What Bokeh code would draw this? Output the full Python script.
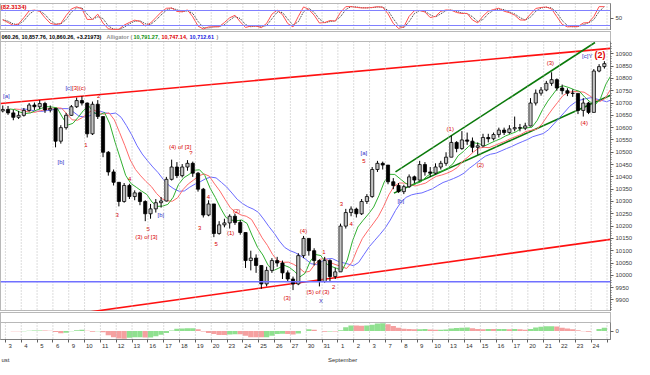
import numpy as np
import pandas as pd
from bokeh.plotting import figure
from bokeh.layouts import column
from bokeh.models import Range1d, FixedTicker, LinearAxis, ColumnDataSource, Span
from bokeh.core.properties import value
from bokeh.embed import file_html
from bokeh.resources import INLINE

# ---------------- data ----------------
day_labels = ["3", "4", "5", "6", "9", "10", "11", "12", "13", "16", "17", "18", "19", "20",
              "23", "24", "25", "26", "27", "30", "31", "1", "2", "3", "7", "8", "9", "10",
              "13", "14", "15", "16", "17", "20", "21", "22", "23", "24", "25"]
month_pos = [0.0, 21.3]
month_labels = ["ust", "September"]

first_open = 10668
close = [10674,
         10660, 10642, 10650, 10670, 10692, 10685, 10698, 10672, 10678, 10545, 10600, 10650,
         10685, 10710, 10700, 10575, 10695, 10645, 10500, 10420, 10378, 10300, 10365, 10320,
         10335, 10300, 10250, 10270, 10295, 10302, 10390, 10440, 10405, 10440, 10455, 10415,
         10350, 10245, 10290, 10170, 10205, 10213, 10240, 10215, 10174, 10060, 10070, 10040,
         9965, 10020, 10060, 10050, 10010, 9985, 9965, 10080, 10150, 10100, 10060, 9975,
         10060, 9995, 10014, 10200, 10255, 10269, 10250, 10300, 10320, 10430, 10455, 10448,
         10380, 10365, 10340, 10360, 10400, 10387, 10450, 10420, 10415, 10440, 10455, 10480,
         10540, 10515, 10550, 10545, 10520, 10526, 10560, 10555, 10572, 10590, 10580, 10595,
         10600, 10598, 10607, 10700, 10740, 10753, 10780, 10795, 10761, 10750, 10740, 10739,
         10670, 10700, 10662, 10830, 10848, 10860]
high = [10690,
        10688, 10672, 10668, 10680, 10700, 10702, 10712, 10705, 10690, 10680, 10610, 10660,
        10692, 10722, 10728, 10702, 10706, 10712, 10645, 10505, 10430, 10378, 10375, 10372,
        10345, 10340, 10305, 10290, 10310, 10318, 10400, 10470, 10460, 10452, 10468, 10462,
        10420, 10355, 10305, 10290, 10220, 10230, 10248, 10250, 10225, 10174, 10100, 10085,
        10040, 10035, 10070, 10075, 10060, 10020, 9995, 10090, 10160, 10150, 10110, 10065,
        10075, 10065, 10030, 10210, 10270, 10280, 10275, 10310, 10330, 10440, 10465, 10462,
        10448, 10395, 10375, 10368, 10410, 10405, 10465, 10460, 10440, 10455, 10465, 10500,
        10568, 10545, 10586, 10580, 10560, 10540, 10575, 10575, 10580, 10600, 10600, 10610,
        10645, 10615, 10620, 10720, 10755, 10765, 10790, 10825, 10800, 10775, 10760, 10755,
        10739, 10720, 10705, 10838, 10858, 10870]
low = [10662,
       10652, 10630, 10635, 10645, 10665, 10672, 10675, 10660, 10662, 10520, 10535, 10592,
       10648, 10680, 10690, 10560, 10570, 10635, 10480, 10405, 10365, 10280, 10295, 10310,
       10305, 10285, 10220, 10230, 10255, 10275, 10300, 10385, 10395, 10398, 10425, 10400,
       10340, 10235, 10240, 10155, 10165, 10195, 10190, 10205, 10165, 10030, 10020, 10010,
       9945, 9955, 10010, 10035, 9985, 9975, 9940, 9960, 10070, 10080, 10040, 9955,
       9970, 9975, 9985, 10014, 10190, 10240, 10235, 10245, 10290, 10315, 10420, 10430,
       10370, 10350, 10335, 10330, 10355, 10375, 10385, 10405, 10400, 10410, 10430, 10445,
       10480, 10500, 10510, 10530, 10500, 10490, 10520, 10540, 10548, 10560, 10570, 10575,
       10585, 10585, 10590, 10605, 10690, 10730, 10748, 10770, 10750, 10735, 10728, 10725,
       10655, 10645, 10655, 10662, 10825, 10840]

# trend lines (day index, price)
red_upper_x, red_upper_y = [-0.31, 38.22], [10698, 10922]
red_lower_x, red_lower_y = [4.29, 38.22], [9842, 10146]
green_upper_x, green_upper_y = [24.64, 37.24], [10420, 10946]
green_lower_x, green_lower_y = [24.54, 38.22], [10334, 10732]
support_level = 9974

# Elliott wave labels (day index, price)
wave_x = [0.06, 3.99, 4.42, 4.85, 5.89, 5.09, 3.50, 7.06, 7.85, 9.02, 8.90, 9.82, 11.04, 11.72,
          12.27, 12.82, 13.31, 14.23, 14.60, 17.79, 18.83, 20.12, 19.75, 19.94, 20.74, 21.23,
          21.84, 22.64, 22.64, 24.97, 28.10, 30.00, 34.42, 36.56, 36.75]
wave_y = [10729, 10760, 10760, 10760, 10730, 10528, 10462, 10245, 10392, 10187, 10156, 10245,
          10520, 10497, 10191, 10319, 10129, 10171, 10260, 9908, 10179, 10094, 9931, 9896, 9954,
          10288, 10210, 10497, 10466, 10303, 10594, 10450, 10861, 10617, 10892]
wave_text = ["[a]", "[c]", "[3]", "(c)", "2", "1", "[b]", "3", "4", "5", "(3) of [3]", "[b]",
             "(4) of [3]", "?", "3", "4", "5", "(1)", "(2)", "(3)", "(4)", "1", "(5) of (3)", "X",
             "2", "3", "4", "[a]", "5", "[b]", "(1)", "(2)", "(3)", "(4)", "[c]Y"]
wave_blue = {"[a]", "[c]", "[b]", "X", "[c]Y"}
big_label = "(2)"
big_label_x, big_label_y = 37.55, 10896

header_parts = ["060.26, 10,857.76, 10,860.26, +3.21973)", "Alligator", "(",
                "10,791.27,", "10,747.14,", "10,712.61", ")"]
header_colors = ["#000000", "#909090", "#909090", "#109010", "#e00000", "#2020e0", "#909090"]
header_px = [1, 106, 130, 133, 161, 189, 216]
osc_label = "(82.3134)"

# ---------------- derived series ----------------
close = np.array(close, float); high = np.array(high, float); low = np.array(low, float)
n = len(close)
opens = np.concatenate([[first_open], close[:-1]])
xs = (np.arange(n) + 2.5) / 3 - 1
med = (high + low) / 2


def smma(vals, period):
    out = np.empty(len(vals)); out[0] = vals[0]
    for i in range(1, len(vals)):
        out[i] = (out[i - 1] * (period - 1) + vals[i]) / period
    return out


jaw = smma(med, 13 * 3 / 7); teeth = smma(med, 8 * 3 / 7); lips = smma(med, 5 * 3 / 7)
ms = pd.Series(med)
ao = (ms.rolling(2, min_periods=1).mean() - ms.rolling(15, min_periods=1).mean()).values
ao_col = ["#8fe08f" if i > 0 and ao[i] > ao[i - 1] else "#f5a0a0" for i in range(n)]
cs, hs, ls = pd.Series(close), pd.Series(high), pd.Series(low)
hh = hs.rolling(4, min_periods=1).max(); ll = ls.rolling(4, min_periods=1).min()
rawk = 100 * (cs - ll) / (hh - ll).replace(0, 1)
kline = rawk.rolling(2, min_periods=1).mean().values
dline = pd.Series(kline).rolling(2, min_periods=1).mean().values

# ---------------- layout ----------------
FW, RB = 610, 24
XR = (-0.31, 38.22)
FONT = "Liberation Sans"
GRID = "#b8b8b8"


def make_fig(h, yr, top=0, bottom=0, xr=XR):
    p = figure(frame_width=FW, frame_height=h, x_range=Range1d(*xr), y_range=Range1d(*yr),
               output_backend="svg", toolbar_location=None, min_border_left=0,
               min_border_right=RB, min_border_top=top, min_border_bottom=bottom,
               x_axis_location=None, y_axis_location=None)
    p.xgrid.visible = False
    p.ygrid.visible = False
    p.outline_line_color = "#707070"
    p.outline_line_dash = "1 1"
    p.background_fill_color = "white"
    p.border_fill_color = "white"
    return p


def day_grid(p):
    for d in range(39):
        p.add_layout(Span(location=d, dimension="height", line_color=GRID,
                          line_dash="1 2", line_width=1))


def right_axis(p, ticks, minor=None, labels=None):
    ax = LinearAxis(ticker=FixedTicker(ticks=ticks, minor_ticks=minor or []))
    ax.major_label_text_font = FONT
    ax.major_label_text_font_size = "6px"
    ax.major_label_text_color = "#404040"
    ax.axis_line_color = "#808080"
    ax.major_tick_line_color = "#606060"
    ax.minor_tick_line_color = "#606060"
    ax.major_tick_out = 3; ax.major_tick_in = 0
    ax.minor_tick_out = 1; ax.minor_tick_in = 0
    ax.major_label_standoff = 2
    if labels:
        ax.major_label_overrides = labels
    p.add_layout(ax, "right")


# oscillator
osc = make_fig(27, (0, 108), top=3)
day_grid(osc)
for lv in (80, 20):
    osc.add_layout(Span(location=lv, dimension="width", line_color="#8080ff", line_width=1))
osc.line(xs, dline, line_color="#303030", line_dash="1 1", line_width=1)
osc.line(xs, kline, line_color="#ff5050", line_width=1)
osc.text(x=[XR[0] + 0.02], y=[108], text=[osc_label], text_font=value(FONT),
         text_font_size=value("6px"), text_font_style="bold", text_color="#e00000",
         text_baseline="top", text_align="left")
right_axis(osc, [50])

# header band
head = make_fig(11, (0, 1), xr=(0, FW))
head.text(x=header_px, y=[0.5] * len(header_parts), text=header_parts,
          text_color=header_colors, text_font=value(FONT), text_font_size=value("5.5px"),
          text_font_style="bold", text_baseline="middle", text_align="left")

# main price panel
main = make_fig(270, (9853, 10950))
day_grid(main)
main.add_layout(Span(location=support_level, dimension="width", line_color="#7070ff", line_width=1.5))
main.line(red_upper_x, red_upper_y, line_color="#ff1010", line_width=1.6)
main.line(red_lower_x, red_lower_y, line_color="#ff1010", line_width=1.6)
main.line(green_upper_x, green_upper_y, line_color="#0a7a0a", line_width=1.6)
main.line(green_lower_x, green_lower_y, line_color="#0a7a0a", line_width=1.6)
main.line(xs + 8 / 7, jaw, line_color="#6a6aff", line_width=1)
main.line(xs + 5 / 7, teeth, line_color="#ff6a6a", line_width=1)
main.line(xs + 3 / 7, lips, line_color="#30b030", line_width=1)
up = close >= opens
src = ColumnDataSource(dict(x=xs, top=np.maximum(opens, close), bottom=np.minimum(opens, close),
                            h=high, l=low,
                            fill=["#c4c4c4" if u else "#000000" for u in up]))
main.segment(x0="x", y0="l", x1="x", y1="h", source=src, line_color="#000000", line_width=1)
main.vbar(x="x", width=0.2, top="top", bottom="bottom", source=src, fill_color="fill",
          line_color="#000000", line_width=0.8)
wsrc = ColumnDataSource(dict(x=wave_x, y=wave_y, t=wave_text,
                             c=["#3030c8" if t in wave_blue else "#d80000" for t in wave_text]))
main.text(x="x", y="y", text="t", text_color="c", source=wsrc, text_font=value(FONT),
          text_font_size=value("6px"), text_align="center", text_baseline="middle")
main.text(x=[big_label_x], y=[big_label_y], text=[big_label], text_color="#e00000",
          text_font=value(FONT), text_font_size=value("9px"), text_font_style="bold",
          text_align="center", text_baseline="middle")
right_axis(main, list(range(9900, 10901, 50)), list(range(9860, 10950, 10)))

# empty separator band
gap = make_fig(11, (0, 1))

# awesome oscillator
amax = np.abs(ao).max() * 1.08
aop = make_fig(17, (-amax, amax), bottom=20)
day_grid(aop)
aop.vbar(x=xs, width=1 / 3, top=ao, bottom=0, fill_color=ao_col, line_color=None)
right_axis(aop, [0])
offs = 0.3
xa = LinearAxis(ticker=FixedTicker(ticks=[d + offs for d in range(39)], minor_ticks=list(range(39))))
xa.major_label_overrides = {d + offs: day_labels[d] for d in range(39)}
xa.major_label_text_font = FONT
xa.major_label_text_font_size = "6px"
xa.major_label_text_color = "#303030"
xa.axis_line_color = "#808080"
xa.major_tick_out = 0; xa.major_tick_in = 0
xa.minor_tick_out = 3; xa.minor_tick_in = 0
xa.minor_tick_line_color = "#606060"
xa.major_label_standoff = 1
aop.add_layout(xa, "below")
xm = LinearAxis(ticker=FixedTicker(ticks=month_pos, minor_ticks=[]))
xm.major_label_overrides = {month_pos[i]: month_labels[i] for i in range(2)}
xm.major_label_text_font = FONT
xm.major_label_text_font_size = "6px"
xm.major_label_text_color = "#303030"
xm.axis_line_color = None
xm.major_tick_line_color = None
xm.minor_tick_line_color = None
xm.major_label_standoff = 0
aop.add_layout(xm, "below")

layout = column(osc, head, main, gap, aop, spacing=0)
open("out.html", "w").write(file_html(layout, INLINE))
